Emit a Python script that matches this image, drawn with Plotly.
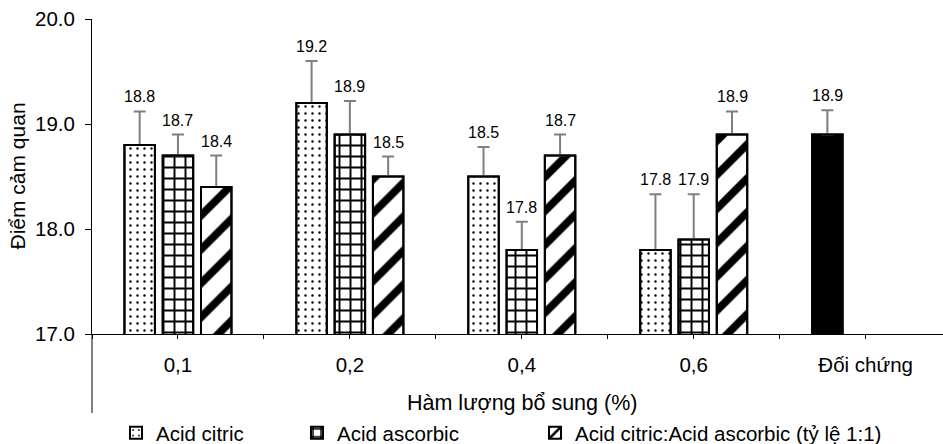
import plotly.graph_objects as go

# ---------------- data ----------------
categories = ["0,1", "0,2", "0,4", "0,6", "Đối chứng"]
series_names = ["Acid citric", "Acid ascorbic", "Acid citric:Acid ascorbic (tỷ lệ 1:1)"]

citric = [18.8, 19.2, 18.5, 17.8]
citric_err = [0.32, 0.40, 0.28, 0.53]
ascorbic = [18.7, 18.9, 17.8, 17.9]
ascorbic_err = [0.20, 0.32, 0.27, 0.43]
mix = [18.4, 18.5, 18.7, 18.9]
mix_err = [0.30, 0.19, 0.20, 0.22]
control = [18.9]
control_err = [0.23]

y_ticks = [17, 18, 19, 20]
x_title = "Hàm lượng bổ sung (%)"
y_title = "Điểm cảm quan"

FONT = "Arial, 'Liberation Sans', sans-serif"
BARGAP = 0.332
BARGROUPGAP = 0.204

xs = list(range(len(categories)))
n_tr = len(citric)

series = [
    dict(name=series_names[0], x=xs[:n_tr], y=citric, e=citric_err, group="0",
         shape=".", color="white", size=7, sol=0.09, legend="legend", show=True),
    dict(name=series_names[1], x=xs[:n_tr], y=ascorbic, e=ascorbic_err, group="1",
         shape="+", color="white", size=11, sol=0.32, legend="legend2", show=True),
    dict(name=series_names[2], x=xs[:n_tr], y=mix, e=mix_err, group="2",
         shape="/", color="white", size=24, sol=0.32, legend="legend3", show=True),
    # control bar shares the first series' slot
    dict(name=categories[-1], x=xs[n_tr:], y=control, e=control_err, group="0",
         shape="", color="black", size=8, sol=0.3, legend="legend", show=False),
]

fig = go.Figure()
for s in series:
    fig.add_trace(go.Bar(
        x=s["x"], y=s["y"], name=s["name"], offsetgroup=s["group"],
        legend=s["legend"], showlegend=s["show"],
        marker=dict(color=s["color"], line=dict(color="black", width=2),
                    pattern=dict(shape=s["shape"], fgcolor="#000000", bgcolor="#ffffff",
                                 fgopacity=1, fillmode="replace",
                                 size=s["size"], solidity=s["sol"])),
        error_y=dict(type="data", symmetric=False, array=s["e"],
                     arrayminus=[0] * len(s["e"]), color="#7f7f7f",
                     thickness=2, width=6),
        hoverinfo="skip",
    ))
# outline overlays (cover the lower error-bar caps)
for s in series:
    fig.add_trace(go.Bar(
        x=s["x"], y=s["y"], offsetgroup=s["group"], showlegend=False,
        marker=dict(color="rgba(0,0,0,0)", line=dict(color="black", width=2)),
        hoverinfo="skip",
    ))

# data labels
slot = (1 - BARGAP) / 3
ann = []
for s in series:
    k = int(s["group"])
    for xi, v, e in zip(s["x"], s["y"], s["e"]):
        ann.append(dict(x=xi + (k - 1) * slot, y=v + e, xref="x", yref="y",
                        text=f"{v:.1f}", showarrow=False, yanchor="bottom",
                        yshift=4, font=dict(size=16, color="black", family=FONT)))
# axis titles
ann.append(dict(x=2, xref="x", yref="paper", y=-(403 - 334) / 315,
                yanchor="middle", xanchor="center", text=x_title, showarrow=False,
                font=dict(size=21.5, color="black", family=FONT)))
ann.append(dict(xref="x domain", x=-(92 - 17) / 851, yref="y domain", y=0.5,
                xanchor="center", yanchor="middle", text=y_title, showarrow=False,
                textangle=-90, font=dict(size=21, color="black", family=FONT)))

tickvals = []
ticktext = []
for i, c in enumerate(categories):
    tickvals += [i - 0.5, i]
    ticktext += ["", c]

fig.update_layout(
    width=943, height=444,
    margin=dict(l=92, r=0, t=19, b=110),
    paper_bgcolor="white", plot_bgcolor="white",
    barmode="group", bargap=BARGAP, bargroupgap=BARGROUPGAP,
    font=dict(family=FONT, color="black"),
    annotations=ann,
    xaxis=dict(range=[-0.5, 4.45], tickvals=tickvals, ticktext=ticktext,
               ticks="outside", ticklen=4, tickcolor="black", tickwidth=1,
               showline=True, linecolor="black", linewidth=1,
               showgrid=False, zeroline=False, tickfont=dict(size=20.5),
               ticklabelstandoff=8),
    yaxis=dict(range=[17, 20], tickvals=y_ticks, tickformat=".1f",
               ticks="outside", ticklen=6, tickcolor="black", tickwidth=1,
               showline=True, linecolor="black", linewidth=1,
               showgrid=False, zeroline=False, tickfont=dict(size=20.5),
               ticklabelstandoff=6),
    shapes=[dict(type="line", xref="paper", yref="paper", x0=0, x1=0,
                 y0=0, y1=-(413 - 334) / 315, line=dict(color="black", width=1))],
)

legend_common = dict(orientation="h", xref="container", yref="container",
                     yanchor="middle", y=1 - 433 / 444, xanchor="left",
                     font=dict(size=20.5, family=FONT), bgcolor="rgba(0,0,0,0)",
                     itemwidth=30, tracegroupgap=0)
fig.update_layout(
    legend=dict(x=116 / 943, **legend_common),
    legend2=dict(x=297 / 943, **legend_common),
    legend3=dict(x=535 / 943, **legend_common),
)

fig.write_html("out.html")
